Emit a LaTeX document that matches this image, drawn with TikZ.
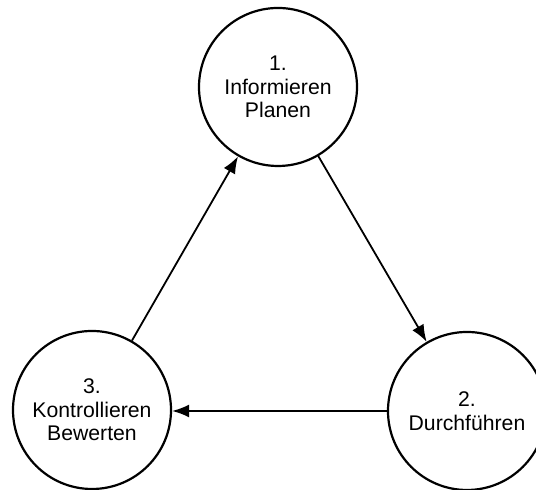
\documentclass[tikz,border=0pt]{standalone}
\usepackage{fontspec}
\setmainfont{Liberation Sans}
\usetikzlibrary{arrows.meta}

\begin{document}
\begin{tikzpicture}[x=0.5pt,y=0.5pt,
  phase/.style={circle,draw,line width=1.1pt,minimum size=79pt,inner sep=0pt,
    align=center,font=\fontsize{10.6}{11.8}\selectfont},
  flow/.style={line width=0.9pt,-{Latex[length=8.5pt,width=6.5pt]}}]
\useasboundingbox (0,0) rectangle (536,490);
\node[phase] (plan) at (278,403) {1.\\Informieren\\Planen};
\node[phase] (do) at (467,79) {2.\\Durchführen};
\node[phase] (check) at (92,80) {3.\\Kontrollieren\\Bewerten};
\draw[flow] (plan) -- (do);
\draw[flow] (do.west) -- (check.east |- do.west);
\draw[flow] (check) -- (plan);
\end{tikzpicture}
\end{document}
